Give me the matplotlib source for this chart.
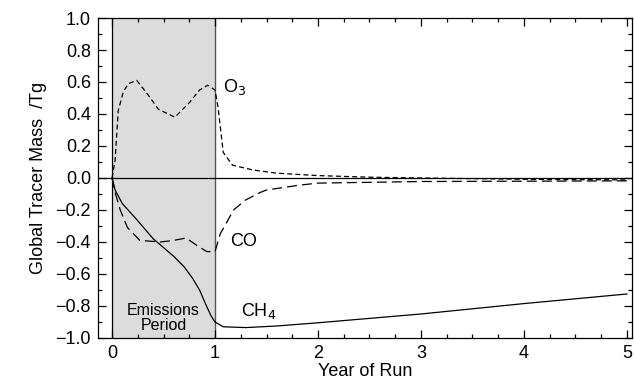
import matplotlib
matplotlib.use('Agg')
import matplotlib.pyplot as plt
from matplotlib.ticker import MultipleLocator

plt.rcParams['font.family'] = ['Liberation Sans', 'DejaVu Sans']

# O3 (short dashes)
o3_x = [0.0, 0.03, 0.06, 0.11, 0.16, 0.24, 0.35, 0.45, 0.61, 0.75, 0.85, 0.93, 1.0,
        1.03, 1.08, 1.17, 1.37, 1.6, 2.0, 2.5, 3.0, 4.0, 5.0]
o3_y = [0.0, 0.11, 0.42, 0.54, 0.59, 0.61, 0.52, 0.43, 0.38, 0.47, 0.55, 0.58, 0.55,
        0.44, 0.16, 0.08, 0.05, 0.03, 0.015, 0.005, 0.0, -0.008, -0.012]

# CO (long dashes)
co_x = [0.0, 0.03, 0.08, 0.15, 0.27, 0.47, 0.6, 0.72, 0.82, 0.92, 1.0,
        1.05, 1.12, 1.18, 1.29, 1.44, 1.5, 1.83, 2.0, 3.0, 4.0, 5.0]
co_y = [0.0, -0.09, -0.2, -0.31, -0.39, -0.40, -0.39, -0.375, -0.42, -0.46, -0.46,
        -0.35, -0.27, -0.2, -0.14, -0.09, -0.075, -0.044, -0.032, -0.022, -0.02, -0.018]

# CH4 (solid)
ch4_x = [0.0, 0.03, 0.1, 0.24, 0.4, 0.6, 0.7, 0.78, 0.85, 0.91, 0.96, 1.0, 1.08,
         1.3, 1.6, 2.0, 3.0, 4.0, 5.0]
ch4_y = [0.0, -0.075, -0.16, -0.26, -0.38, -0.49, -0.555, -0.625, -0.7, -0.79,
         -0.86, -0.9, -0.93, -0.935, -0.925, -0.905, -0.85, -0.785, -0.725]

yticks = [-1.0, -0.8, -0.6, -0.4, -0.2, 0.0, 0.2, 0.4, 0.6, 0.8, 1.0]
ytick_labels = ['\u22121.0', '\u22120.8', '\u22120.6', '\u22120.4', '\u22120.2',
                '0.0', '0.2', '0.4', '0.6', '0.8', '1.0']

fig = plt.figure(figsize=(6.34, 3.88), dpi=100)
ax = fig.add_axes([0.1546, 0.1289, 0.8424, 0.8247])

# emissions period shading
ax.axvspan(0, 1, facecolor='#dcdcdc', edgecolor='none', zorder=0)
ax.axvline(0, color='black', lw=0.9, zorder=1)
ax.axvline(1, color='#555555', lw=1.0, zorder=1)
ax.axhline(0, color='black', lw=0.9, zorder=1)

ax.plot(o3_x, o3_y, color='black', lw=0.9, dashes=(4, 2.5))
ax.plot(co_x, co_y, color='black', lw=0.9, dashes=(8, 4))
ax.plot(ch4_x, ch4_y, color='black', lw=0.9)

ax.text(1.08, 0.57, 'O$_3$', fontsize=13, va='center')
ax.text(1.15, -0.40, 'CO', fontsize=13, va='center')
ax.text(1.25, -0.83, 'CH$_4$', fontsize=13, va='center')
ax.text(0.5, -0.875, 'Emissions\nPeriod', fontsize=11.5, ha='center', va='center',
        linespacing=1.0)

ax.set_xlim(-0.136, 5.05)
ax.set_ylim(-1.0, 1.0)
ax.xaxis.set_major_locator(MultipleLocator(1))
ax.xaxis.set_minor_locator(MultipleLocator(0.25))
ax.yaxis.set_minor_locator(MultipleLocator(0.1))
ax.set_yticks(yticks)
ax.set_yticklabels(ytick_labels)
ax.tick_params(which='both', direction='in', top=True, right=True, labelsize=13)
ax.tick_params(which='major', length=6, width=0.9, pad=5)
ax.tick_params(which='minor', length=3, width=0.9)
for s in ax.spines.values():
    s.set_linewidth(0.9)

ax.set_xlabel('Year of Run', fontsize=13, labelpad=1)
ax.set_ylabel('Global Tracer Mass  /Tg', fontsize=13, labelpad=6)

fig.savefig('out.png', dpi=100)
